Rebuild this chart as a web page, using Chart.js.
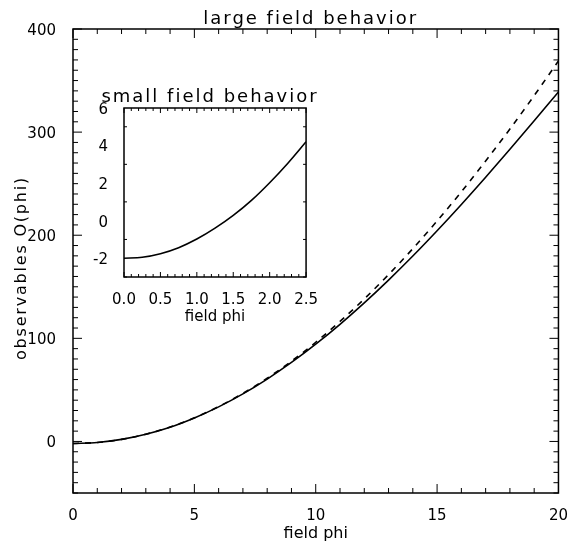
<!DOCTYPE html>
<html>
<head>
<meta charset="utf-8">
<script src="https://cdn.jsdelivr.net/npm/chart.js@4/dist/chart.umd.min.js"></script>
<style>
    body { margin: 0; background: #fff; }
    #wrap { position: relative; width: 574px; height: 543px; }
    #mainChart { position: absolute; left: 0; top: 0; }
    #insetChart { position: absolute; left: 84px; top: 80px; }
</style>
</head>
<body>
<div id="wrap">
    <canvas id="mainChart" width="574" height="543"></canvas>
    <canvas id="insetChart" width="240" height="250"></canvas>
</div>
<script>
// -------------------- Data --------------------
const phiLarge = [0, 1, 2, 3, 4, 5, 6, 7, 8, 9, 10, 11, 12, 13, 14, 15, 16, 17, 18, 19, 20];
const solidObs = [-2, -1, 2, 7, 13.8, 22.8, 33.5, 46.1, 60.5, 76.6, 94.3, 113.6, 134.4, 156.5, 179.8, 204.3, 229.8, 256.2, 283.3, 311, 339];
const dashedObs = [-2, -1, 2, 7, 13.9, 22.9, 33.8, 46.6, 61.3, 77.8, 96.2, 116.4, 138.2, 161.8, 187, 213.8, 242.1, 272, 303, 335.4, 369];

const phiSmall = [0, 0.25, 0.5, 0.75, 1.0, 1.25, 1.5, 1.75, 2.0, 2.25, 2.5];
const smallObs = [-2.0, -1.95, -1.76, -1.44, -0.98, -0.4, 0.28, 1.08, 2.02, 3.06, 4.2];

// -------------------- Tick labels --------------------
const mainXTicks = [0, 5, 10, 15, 20];
const mainYTicks = [0, 100, 200, 300, 400];
const insetXTicks = [0, 0.5, 1.0, 1.5, 2.0, 2.5];
const insetYTicks = [-2, 0, 2, 4, 6];

const FONT = "'DejaVu Sans', 'Liberation Sans', sans-serif";
Chart.defaults.color = '#000';
Chart.defaults.font.family = FONT;

const toPoints = (xs, ys) => xs.map((x, i) => ({x, y: ys[i]}));

// -------------------- Plugins: box with inward ticks, titles --------------------
const framePlugin = {
    id: 'frame',
    afterDatasetsDraw(chart, args, opts) {
        const {ctx, chartArea: a, scales} = chart;
        const x = scales.x, y = scales.y;
        ctx.save();
        ctx.strokeStyle = '#000';
        ctx.lineWidth = opts.lineWidth;
        ctx.strokeRect(a.left, a.top, a.right - a.left, a.bottom - a.top);
        ctx.beginPath();
        // x ticks, bottom and top
        for (let v = x.min; v <= x.max + 1e-9; v += opts.xMinor) {
            const isMajor = Math.abs(v / opts.xMajor - Math.round(v / opts.xMajor)) < 1e-6;
            const len = isMajor ? opts.major : opts.minor;
            const px = x.getPixelForValue(v);
            ctx.moveTo(px, a.bottom); ctx.lineTo(px, a.bottom - len);
            ctx.moveTo(px, a.top); ctx.lineTo(px, a.top + len);
        }
        // y ticks, left and right
        for (let v = y.min; v <= y.max + 1e-9; v += opts.yMinor) {
            const isMajor = Math.abs(v / opts.yMajor - Math.round(v / opts.yMajor)) < 1e-6;
            const len = isMajor ? opts.major : opts.minor;
            const py = y.getPixelForValue(v);
            ctx.moveTo(a.left, py); ctx.lineTo(a.left + len, py);
            ctx.moveTo(a.right, py); ctx.lineTo(a.right - len, py);
        }
        ctx.lineWidth = 1;
        ctx.stroke();
        ctx.restore();
    }
};

const titlePlugin = {
    id: 'plotTitle',
    afterDraw(chart, args, opts) {
        const {ctx, chartArea: a} = chart;
        ctx.save();
        ctx.font = opts.size + 'px ' + FONT;
        ctx.letterSpacing = opts.spacing + 'px';
        ctx.textAlign = 'center';
        ctx.textBaseline = 'alphabetic';
        ctx.fillStyle = '#000';
        ctx.fillText(opts.text, (a.left + a.right) / 2 + opts.dx, opts.y);
        // optional rotated y-axis title
        if (opts.yText) {
            ctx.translate(opts.yX, opts.yCenter);
            ctx.rotate(-Math.PI / 2);
            ctx.font = opts.ySize + 'px ' + FONT;
            ctx.letterSpacing = opts.ySpacing + 'px';
            ctx.fillText(opts.yText, 0, 0);
        }
        ctx.restore();
    }
};

function axisTicks(values) {
    return scale => { scale.ticks = values.map(v => ({value: v})); };
}

// -------------------- Main chart --------------------
new Chart(document.getElementById('mainChart'), {
    type: 'line',
    data: {
        datasets: [
            {data: toPoints(phiLarge, solidObs), borderColor: '#000', borderWidth: 1.6, pointRadius: 0, cubicInterpolationMode: 'monotone'},
            {data: toPoints(phiLarge, dashedObs), borderColor: '#000', borderWidth: 1.6, borderDash: [6, 6], pointRadius: 0, cubicInterpolationMode: 'monotone'}
        ]
    },
    options: {
        responsive: false,
        animation: false,
        devicePixelRatio: 1,
        layout: {padding: {top: 29, right: 11, left: 0, bottom: 0}},
        plugins: {
            legend: {display: false},
            tooltip: {enabled: false},
            frame: {lineWidth: 1.5, xMajor: 5, xMinor: 1, yMajor: 100, yMinor: 10, major: 9, minor: 5},
            plotTitle: {
                text: 'large field behavior', size: 18, spacing: 2, y: 24, dx: -5,
                yText: 'observables O(phi)', ySize: 16, ySpacing: 1.8, yX: 26, yCenter: 268
            }
        },
        scales: {
            x: {
                type: 'linear', min: 0, max: 20,
                afterBuildTicks: axisTicks(mainXTicks),
                afterFit: s => { s.height = 50; },
                grid: {display: false}, border: {display: false},
                ticks: {padding: 6, font: {size: 15}, maxRotation: 0, autoSkip: false},
                title: {display: true, text: 'field phi', font: {size: 16}, padding: {top: 0, bottom: 0}}
            },
            y: {
                type: 'linear', min: -50, max: 400,
                afterBuildTicks: axisTicks(mainYTicks),
                afterFit: s => { s.width = 73; },
                grid: {display: false}, border: {display: false},
                ticks: {padding: 9, font: {size: 15}, autoSkip: false, labelOffset: 2}
            }
        }
    },
    plugins: [framePlugin, titlePlugin]
});

// -------------------- Inset chart --------------------
new Chart(document.getElementById('insetChart'), {
    type: 'line',
    data: {
        datasets: [
            {data: toPoints(phiSmall, smallObs), borderColor: '#000', borderWidth: 1.6, pointRadius: 0, cubicInterpolationMode: 'monotone'}
        ]
    },
    options: {
        responsive: false,
        animation: false,
        devicePixelRatio: 1,
        layout: {padding: {top: 28, right: 12, left: 0, bottom: 0}},
        plugins: {
            legend: {display: false},
            tooltip: {enabled: false},
            frame: {lineWidth: 1.5, xMajor: 0.5, xMinor: 0.1, yMajor: 2, yMinor: 2, major: 5, minor: 3},
            plotTitle: {text: 'small field behavior', size: 18, spacing: 2, y: 22, dx: -5}
        },
        scales: {
            x: {
                type: 'linear', min: 0, max: 2.5,
                afterBuildTicks: axisTicks(insetXTicks),
                afterFit: s => { s.height = 53; },
                grid: {display: false}, border: {display: false},
                ticks: {padding: 6, font: {size: 15}, maxRotation: 0, autoSkip: false, callback: v => v.toFixed(1)},
                title: {display: true, text: 'field phi', font: {size: 15}, padding: {top: 0, bottom: 4}}
            },
            y: {
                type: 'linear', min: -3, max: 6,
                afterBuildTicks: axisTicks(insetYTicks),
                afterFit: s => { s.width = 40; },
                grid: {display: false}, border: {display: false},
                ticks: {padding: 8, font: {size: 15}, autoSkip: false, labelOffset: 2}
            }
        }
    },
    plugins: [framePlugin, titlePlugin]
});
</script>
</body>
</html>
